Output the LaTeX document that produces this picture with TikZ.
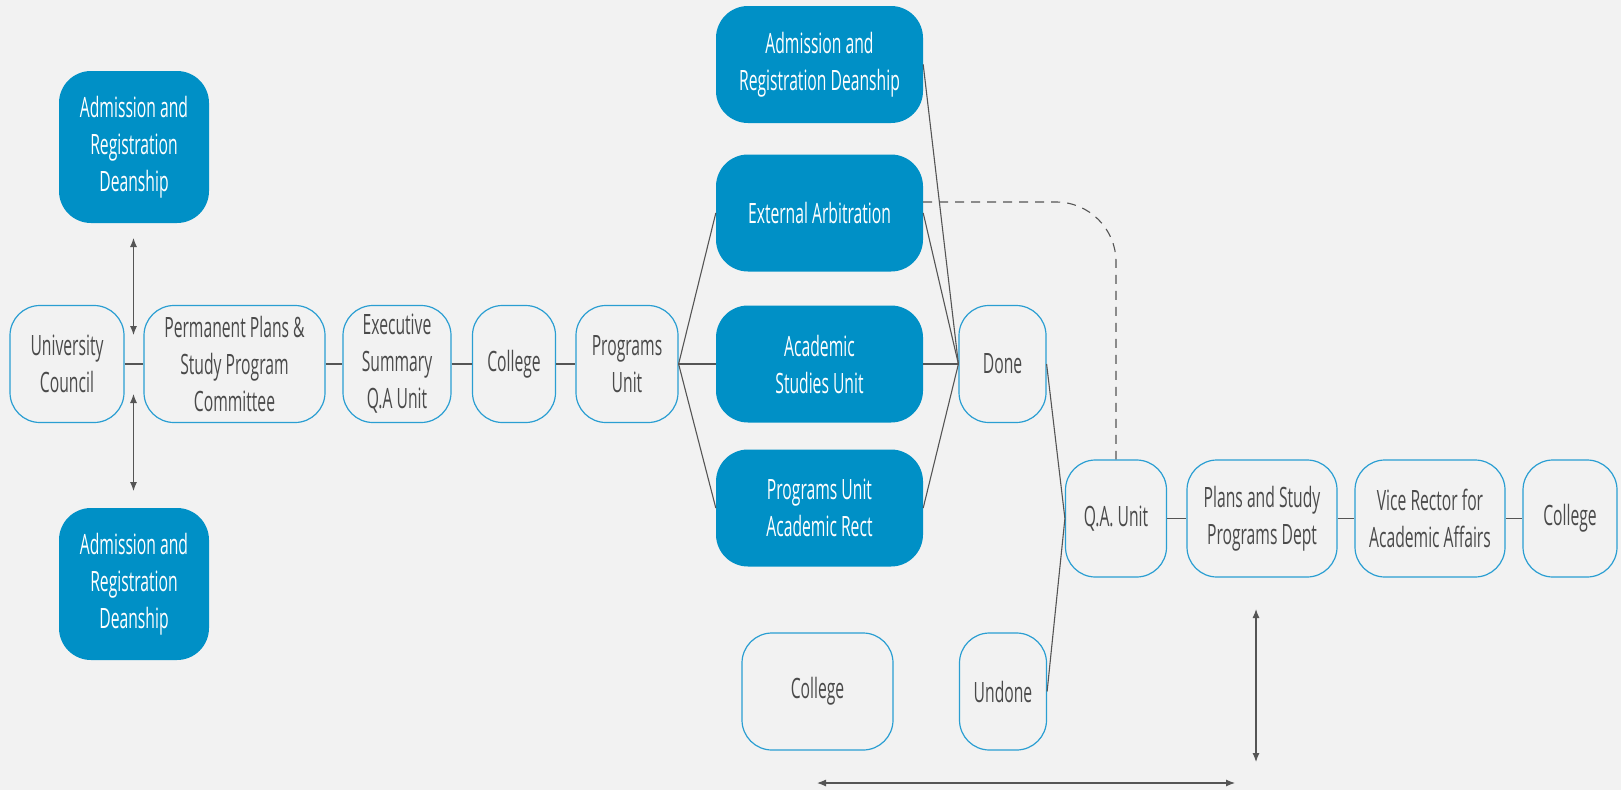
\documentclass[tikz,border=0pt]{standalone}
\usepackage{fontspec}
\setmainfont{Open Sans}[FakeStretch=0.56]
\usetikzlibrary{arrows.meta}
\definecolor{bg}{HTML}{F2F2F2}
\definecolor{boxblue}{HTML}{0090C6}
\definecolor{lineblue}{HTML}{2A9ED2}
\definecolor{txtgray}{HTML}{4A4A4A}
\definecolor{linegray}{HTML}{555555}
\begin{document}
\begin{tikzpicture}[x=1pt,y=-1pt,
outbox/.style={draw=lineblue,fill=bg,line width=1.2pt,rounded corners=30pt,inner sep=0pt,align=center,text=txtgray,font=\fontsize{28}{37}\selectfont,minimum height=117pt},
fillbox/.style={fill=boxblue,rounded corners=32pt,inner sep=0pt,align=center,text=white,font=\fontsize{28}{37}\selectfont,minimum height=117pt},
link/.style={draw=linegray,line width=1.1pt},
dbl/.style={link,{Latex[length=9pt,width=7pt]}-{Latex[length=9pt,width=7pt]}}]
\useasboundingbox[fill=bg] (0,0) rectangle (1621,790);
\node[fillbox,minimum width=150pt,minimum height=152pt] at (134,147) (ard1) {Admission and\\Registration\\Deanship};
\node[fillbox,minimum width=150pt,minimum height=152pt] at (134,584) (ard2) {Admission and\\Registration\\Deanship};
\node[outbox,minimum width=114pt] at (67,364) (uc) {University\\Council};
\node[outbox,minimum width=181pt] at (234.5,364) (ppc) {Permanent Plans \&\\Study Program\\Committee};
\node[outbox,minimum width=108pt] at (397,364) (esq) {Executive\\Summary\\Q.A Unit};
\node[outbox,minimum width=83pt] at (514,364) (col1) {College};
\node[outbox,minimum width=102pt] at (627,364) (pu) {Programs\\Unit};
\node[fillbox,minimum width=207pt] at (819.5,64.5) (ard3) {Admission and\\Registration Deanship};
\node[fillbox,minimum width=207pt] at (819.5,213) (ext) {External Arbitration};
\node[fillbox,minimum width=207pt] at (819.5,364) (asu) {Academic\\Studies Unit};
\node[fillbox,minimum width=207pt] at (819.5,508) (pua) {Programs Unit\\Academic Rect};
\node[outbox,minimum width=87pt] at (1002.5,364) (done) {Done};
\node[outbox,minimum width=151pt] at (817.5,691.5) (col2) {College};
\node[outbox,minimum width=87pt] at (1003,691.5) (undone) {Undone};
\node[outbox,minimum width=101pt] at (1116,518.5) (qa) {Q.A. Unit};
\node[outbox,minimum width=150pt] at (1262,518.5) (psp) {Plans and Study\\Programs Dept};
\node[outbox,minimum width=150pt] at (1430,518.5) (vr) {Vice Rector for\\Academic Affairs};
\node[outbox,minimum width=94pt] at (1570,518.5) (col3) {College};
\coordinate (a1) at (133.5,238);
\coordinate (a2) at (133.5,335);
\coordinate (a3) at (133.5,394);
\coordinate (a4) at (133.5,491);
\coordinate (h1) at (817,783);
\coordinate (h2) at (1235,783);
\coordinate (v1) at (1256,609);
\coordinate (v2) at (1256,762);

\draw[link] (uc) -- (ppc);
\draw[link] (ppc) -- (esq);
\draw[link] (esq) -- (col1);
\draw[link] (col1) -- (pu);
\draw[link] (pu.east) -- (ext.west);
\draw[link] (pu.east) -- (asu.west);
\draw[link] (pu.east) -- (pua.west);
\draw[link] (ard3.east) -- (done.west);
\draw[link] (ext.east) -- (done.west);
\draw[link] (asu.east) -- (done.west);
\draw[link] (pua.east) -- (done.west);
\draw[link] (done.east) -- (qa.west);
\draw[link] (undone.east) -- (qa.west);
\draw[link] (qa) -- (psp);
\draw[link] (psp) -- (vr);
\draw[link] (vr) -- (col3);
\draw[link,dash pattern=on 9pt off 7pt,rounded corners=60pt] ([yshift=11pt]ext.east) -| (qa.north);
\draw[dbl] (a1) -- (a2);
\draw[dbl] (a3) -- (a4);
\draw[dbl] (h1) -- (h2);
\draw[dbl] (v1) -- (v2);
\end{tikzpicture}
\end{document}
